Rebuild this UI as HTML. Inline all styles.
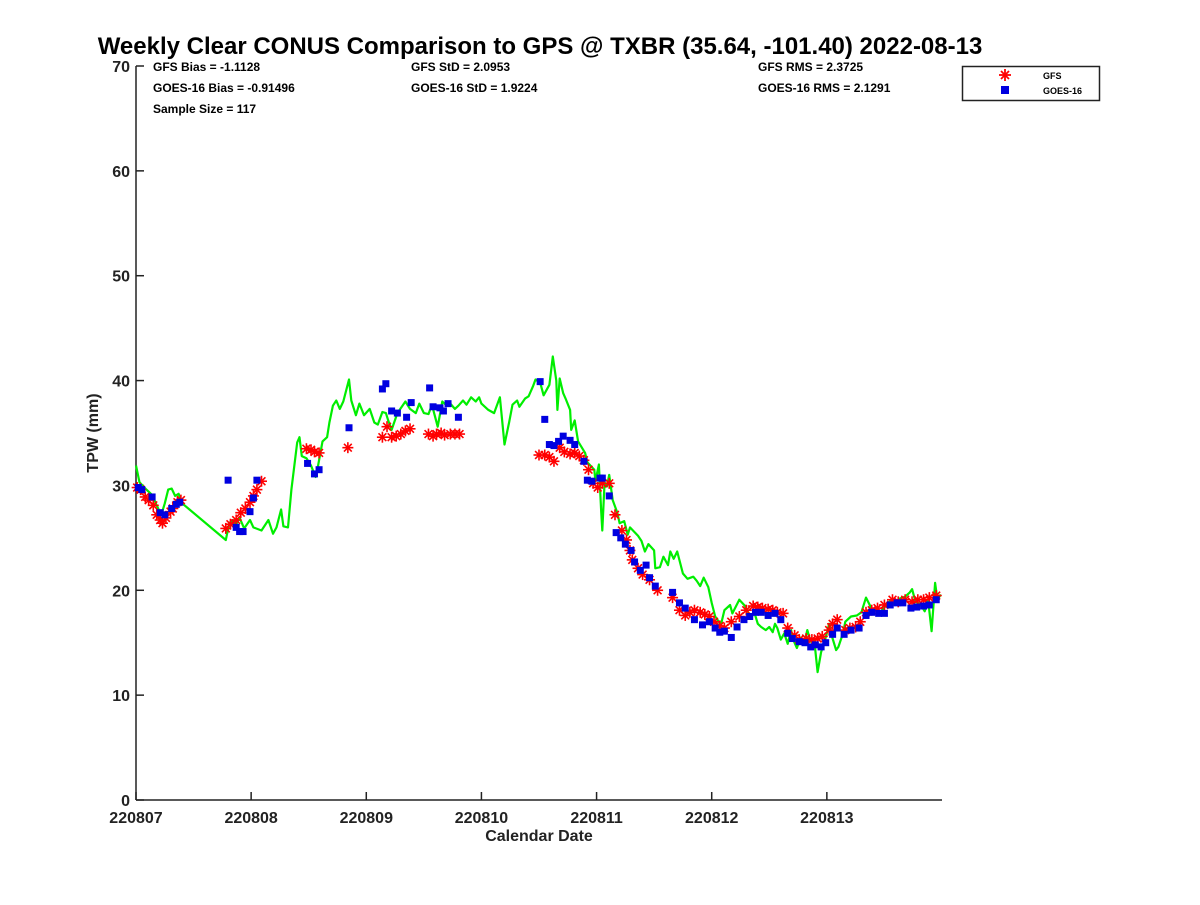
<!DOCTYPE html>
<html><head><meta charset="utf-8"><style>
body{margin:0;background:#fff;}
svg text{font-family:"Liberation Sans",sans-serif;font-weight:bold;}
</style></head><body>
<svg id="chart" width="1200" height="900" xmlns="http://www.w3.org/2000/svg">
<rect width="1200" height="900" fill="#fff"/>
<text x="540" y="54" font-size="24" text-anchor="middle">Weekly Clear CONUS Comparison to GPS @ TXBR (35.64, -101.40) 2022-08-13</text>
<g font-size="12">
<text x="153" y="71">GFS Bias = -1.1128</text>
<text x="153" y="92">GOES-16 Bias = -0.91496</text>
<text x="153" y="113">Sample Size = 117</text>
<text x="411" y="71">GFS StD = 2.0953</text>
<text x="411" y="92">GOES-16 StD = 1.9224</text>
<text x="758" y="71">GFS RMS = 2.3725</text>
<text x="758" y="92">GOES-16 RMS = 2.1291</text>
</g>
<g id="axes"></g>
<g id="marks"></g>
<g>
<rect x="962.5" y="66.5" width="137" height="34" fill="#fff" stroke="#222" stroke-width="1.5"/>
<g stroke="#f00" stroke-width="1.8"><line x1="999" y1="75" x2="1011" y2="75"/><line x1="1005" y1="69" x2="1005" y2="81"/><line x1="1001" y1="71" x2="1009" y2="79"/><line x1="1001" y1="79" x2="1009" y2="71"/></g>
<rect x="1001" y="86" width="8" height="8" fill="#0000e0"/>
<text x="1043" y="79" font-size="9">GFS</text>
<text x="1043" y="94" font-size="9">GOES-16</text>
</g>
</svg>
<script>
const xTickLabels=["220807","220808","220809","220810","220811","220812","220813"];
const yTickLabels=[0,10,20,30,40,50,60,70];
const gpsT=[0,.03,.09,.14,.18,.22,.25,.28,.31,.34,.37,.40,.78,.81,.84,.87,.90,.94,.99,1.02,1.09,1.15,1.19,1.22,1.26,1.28,1.32,1.35,1.40,1.42,1.44,1.48,1.52,1.56,1.58,1.62,1.66,1.68,1.71,1.74,1.77,1.80,1.85,1.87,1.91,1.94,1.98,2.03,2.07,2.10,2.14,2.17,2.19,2.22,2.27,2.34,2.38,2.43,2.46,2.50,2.54,2.57,2.62,2.66,2.69,2.73,2.77,2.80,2.84,2.87,2.91,2.95,2.98,3.00,3.06,3.11,3.16,3.20,3.24,3.27,3.31,3.33,3.38,3.41,3.45,3.47,3.51,3.54,3.59,3.62,3.65,3.66,3.68,3.71,3.73,3.77,3.78,3.81,3.84,3.90,3.92,3.98,3.99,4.02,4.04,4.05,4.07,4.09,4.11,4.14,4.18,4.20,4.24,4.27,4.29,4.36,4.39,4.42,4.45,4.50,4.51,4.55,4.58,4.62,4.64,4.67,4.70,4.75,4.79,4.84,4.87,4.90,4.93,4.97,5.00,5.03,5.08,5.11,5.16,5.18,5.24,5.29,5.32,5.35,5.37,5.40,5.43,5.47,5.50,5.53,5.55,5.57,5.60,5.63,5.66,5.69,5.70,5.74,5.77,5.80,5.83,5.86,5.89,5.92,5.95,5.99,6.02,6.05,6.08,6.10,6.14,6.16,6.21,6.26,6.30,6.34,6.40,6.42,6.44,6.48,6.51,6.55,6.59,6.63,6.68,6.72,6.74,6.77,6.81,6.85,6.88,6.91,6.94,6.96,6.99];
const gpsV=[31.9,30.3,29.6,29.1,28.1,27.2,28.3,29.6,29.7,29.0,29.2,28.3,24.8,26.4,26.7,26.3,26.9,25.9,26.7,26.0,25.7,26.7,25.4,26.0,27.7,26.1,26.0,29.6,34.1,34.6,32.8,32.6,31.9,30.8,31.8,34.2,34.6,36.0,37.6,38.1,37.3,38.0,40.1,38.1,36.7,37.8,36.7,37.3,36.0,35.8,37.0,36.9,36.2,35.3,36.9,38.0,37.3,36.9,37.8,36.9,36.8,37.7,35.6,38.0,37.7,37.8,37.3,37.6,38.1,37.7,38.4,38.0,38.4,37.8,37.2,36.9,38.4,33.9,36.0,37.7,38.1,37.5,38.3,38.5,39.5,40.1,39.8,38.6,39.6,42.3,40.0,37.2,40.2,38.8,38.3,37.2,35.3,36.2,34.2,33.1,32.2,31.5,30.4,32.0,27.5,25.7,30.3,29.9,31.0,28.6,27.4,26.4,26.6,25.3,26.0,25.2,24.7,23.7,24.4,23.8,22.1,22.2,23.2,22.4,23.7,23.0,23.7,21.6,21.1,21.3,20.9,20.4,21.2,20.3,18.8,17.5,16.7,18.1,18.6,17.8,19.1,18.5,17.8,17.5,17.9,16.8,16.5,16.2,16.5,16.0,16.8,16.4,15.3,15.9,14.9,16.2,15.5,14.5,15.5,14.8,16.2,15.1,15.3,12.2,14.1,15.5,16.8,15.4,14.3,14.6,15.9,17.0,17.5,17.6,17.9,19.3,18.0,18.3,17.7,18.1,18.5,19.0,18.6,19.2,19.4,19.8,20.1,18.9,18.7,18.0,19.0,16.1,20.7,19.1,19.6];
const gfsT=[.01,.04,.08,.11,.15,.18,.21,.23,.26,.30,.32,.36,.39,.78,.82,.87,.91,.95,.99,1.02,1.05,1.09,1.48,1.52,1.55,1.59,1.84,2.14,2.18,2.22,2.26,2.30,2.34,2.38,2.54,2.58,2.61,2.65,2.68,2.73,2.77,2.81,3.50,3.55,3.59,3.63,3.68,3.72,3.77,3.81,3.85,3.89,3.93,3.97,4.01,4.05,4.11,4.16,4.22,4.26,4.29,4.31,4.36,4.40,4.46,4.53,4.66,4.72,4.77,4.81,4.85,4.90,4.94,4.98,5.02,5.07,5.11,5.17,5.24,5.30,5.36,5.40,5.44,5.49,5.53,5.57,5.62,5.66,5.72,5.76,5.82,5.87,5.92,5.96,6.02,6.05,6.09,6.16,6.20,6.25,6.29,6.34,6.39,6.44,6.50,6.57,6.62,6.68,6.74,6.79,6.84,6.89,6.95];
const gfsV=[29.8,29.6,28.9,28.6,28.1,27.2,26.7,26.4,26.9,27.5,27.8,28.4,28.6,25.9,26.3,26.7,27.4,27.8,28.4,29.0,29.6,30.4,33.5,33.4,33.2,33.1,33.6,34.6,35.6,34.6,34.7,34.9,35.2,35.4,34.9,34.7,34.9,35.0,34.8,34.9,34.9,34.9,32.9,32.9,32.7,32.3,33.6,33.2,33.0,33.1,32.8,32.4,31.5,30.2,29.8,30.2,30.2,27.2,25.7,24.8,23.8,22.9,22.1,21.5,21.0,20.0,19.3,18.1,17.6,17.9,18.1,17.9,17.7,17.5,17.0,16.6,16.4,17.0,17.5,18.1,18.5,18.4,18.3,18.2,18.1,17.9,17.8,16.4,15.7,15.3,15.4,15.3,15.4,15.6,16.2,16.8,17.2,16.2,16.4,16.5,17.0,17.9,18.1,18.3,18.6,19.1,18.9,19.1,18.9,19.1,19.1,19.3,19.5];
const goesT=[.02,.05,.14,.21,.25,.31,.35,.38,.80,.87,.90,.93,.99,1.02,1.05,1.49,1.55,1.59,1.85,2.14,2.17,2.22,2.27,2.35,2.39,2.55,2.58,2.64,2.67,2.71,2.80,3.51,3.55,3.59,3.63,3.67,3.71,3.77,3.81,3.89,3.92,3.96,4.03,4.05,4.11,4.17,4.21,4.25,4.30,4.33,4.38,4.43,4.46,4.51,4.66,4.72,4.77,4.85,4.92,4.98,5.03,5.07,5.11,5.17,5.22,5.28,5.33,5.38,5.43,5.49,5.55,5.60,5.66,5.70,5.76,5.81,5.86,5.90,5.95,5.99,6.05,6.09,6.15,6.21,6.28,6.34,6.39,6.45,6.50,6.55,6.61,6.66,6.73,6.78,6.84,6.89,6.95];
const goesV=[29.8,29.6,28.9,27.4,27.2,27.8,28.2,28.4,30.5,26.0,25.6,25.6,27.5,28.8,30.5,32.1,31.1,31.5,35.5,39.2,39.7,37.1,36.9,36.5,37.9,39.3,37.5,37.4,37.1,37.8,36.5,39.9,36.3,33.9,33.8,34.2,34.7,34.3,33.9,32.3,30.5,30.4,30.7,30.7,29.0,25.5,25.0,24.4,23.8,22.7,21.9,22.4,21.2,20.4,19.8,18.8,18.3,17.2,16.7,17.0,16.4,16.0,16.1,15.5,16.5,17.2,17.5,17.9,17.9,17.6,17.8,17.2,15.9,15.4,15.1,15.0,14.6,14.8,14.6,15.0,15.8,16.4,15.8,16.2,16.4,17.6,17.9,17.8,17.8,18.6,18.8,18.8,18.3,18.4,18.5,18.6,19.1];

const NS="http://www.w3.org/2000/svg";
const X0=136,X1=942,Y0=800,Y1=66;
const xs=d=>X0+d*(X1-X0)/7;
const ys=v=>Y0-v*(Y0-Y1)/70;
function mk(tag,attrs,parent){const e=document.createElementNS(NS,tag);for(const k in attrs)e.setAttribute(k,attrs[k]);parent.appendChild(e);return e;}
const axes=document.getElementById('axes'),marks=document.getElementById('marks');
let yl=mk('line',{x1:X0,y1:Y1,x2:X0,y2:Y0,stroke:'#222','stroke-width':1.5},axes);


let xl=mk('line',{x1:X0,y1:Y0,x2:X1,y2:Y0,stroke:'#222','stroke-width':1.5},axes);


yTickLabels.forEach(v=>{const y=ys(v);
 mk('line',{x1:X0,y1:y,x2:X0+8,y2:y,stroke:'#222','stroke-width':1.5},axes);
 const t=mk('text',{x:X0-6,y:y+6,'font-size':16,'text-anchor':'end',fill:'#222'},axes);t.textContent=v;
 
 });
xTickLabels.forEach((l,i)=>{const x=xs(i);
 mk('line',{x1:x,y1:Y0,x2:x,y2:Y0-8,stroke:'#222','stroke-width':1.5},axes);
 const t=mk('text',{x:x,y:Y0+23,'font-size':16,'text-anchor':'middle',fill:'#222'},axes);t.textContent=l;
 
 });
let xt=mk('text',{x:539,y:841,'font-size':16,'text-anchor':'middle',fill:'#222'},axes);xt.textContent='Calendar Date';


let yt=mk('text',{x:98,y:433,'font-size':16,'text-anchor':'middle',fill:'#222',transform:'rotate(-90 98 433)'},axes);yt.textContent='TPW (mm)';


// GPS line
let pts=gpsT.map((t,i)=>xs(t).toFixed(1)+','+ys(gpsV[i]).toFixed(1)).join(' ');
let pl=mk('polyline',{points:pts,fill:'none',stroke:'#00ee00','stroke-width':2.2,'stroke-linejoin':'round'},marks);


// GFS asterisks
gfsT.forEach((t,i)=>{const x=xs(t),y=ys(gfsV[i]),r=5.5,d=3.9;
 const g=mk('g',{stroke:'#f00','stroke-width':1.6},marks);
 
 
 mk('line',{x1:x-r,y1:y,x2:x+r,y2:y},g);mk('line',{x1:x,y1:y-r,x2:x,y2:y+r},g);
 mk('line',{x1:x-d,y1:y-d,x2:x+d,y2:y+d},g);mk('line',{x1:x-d,y1:y+d,x2:x+d,y2:y-d},g);});
// GOES squares
goesT.forEach((t,i)=>{const x=xs(t),y=ys(goesV[i]);
 const r=mk('rect',{x:x-3.5,y:y-3.5,width:7,height:7,fill:'#0000e0'},marks);
 
 });
</script>
</body></html>
